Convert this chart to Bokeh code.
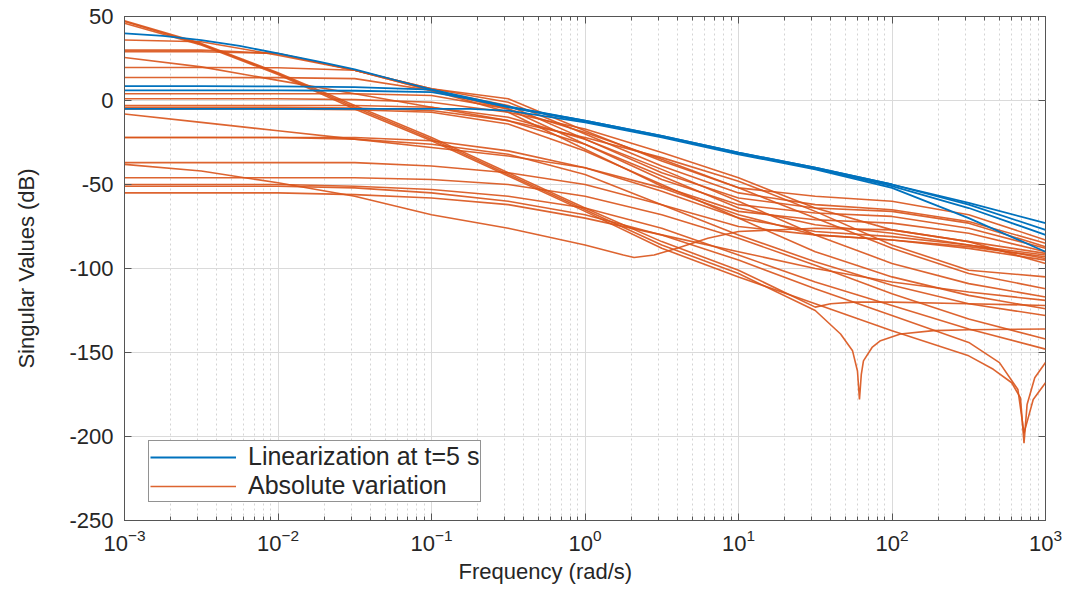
from bokeh.plotting import figure
from bokeh.models import (LogAxis, LinearAxis, FixedTicker, LogTicker, Legend, LegendItem,
                          CustomJSTickFormatter, Range1d, Title)
from bokeh.embed import file_html
from bokeh.resources import INLINE

# ---------------- data ----------------
freq = [0.001, 0.003162, 0.01, 0.03162, 0.1, 0.3162, 1, 3.162, 10, 31.62, 100, 316.2, 1000]

# Linearization at t=5 s (blue)
freq_b1 = [0.001, 0.001778, 0.003162, 0.005623, 0.01, 0.01778, 0.03162, 0.05623, 0.1,
           0.1778, 0.3162, 0.5623, 1, 3.162, 10, 31.62, 100, 316.2, 1000]
blue_1 = [40, 38.5, 36, 32.5, 28, 23.5, 18.5, 12.5, 6.5, 1, -4, -8, -12, -21, -31, -40, -50, -61, -73]
freq_b2 = [0.001, 0.003162, 0.01, 0.03162, 0.1, 0.1778, 0.3162, 1, 3.162, 10, 31.62, 100, 316.2, 1000]
blue_2 = [8.5, 8.5, 8.4, 8, 6.5, 1.5, -3.5, -12, -21, -31, -40, -50, -62, -77]
blue_3 = [6, 6, 6, 5.8, 5, 1, -4, -12.5, -21.5, -31.5, -40.5, -51, -64, -80]
blue_4 = [-5, -5, -5, -5, -5, -5, -6, -13, -22, -32, -41, -52, -70, -90]

# Absolute variation (orange), on the common frequency grid
var_36 = [36, 35, 27, 18, 7, 1, -18, -36, -52, -57, -60, -68, -83]
var_30 = [30, 30, 28, 18, 7, -1, -20, -39, -55, -62, -65, -72, -85]
var_29 = [29, 29, 28, 18, 6, -3, -23, -43, -58, -64, -66, -73, -87]
var_26 = [25.6, 20, 12, 4, -4, -12, -22, -34, -48, -66, -86, -101, -105]
var_20 = [19.6, 19.6, 19.5, 18, 6, -5, -26, -47, -62, -67, -69, -76, -88]
var_14 = [13.7, 13.7, 13.6, 13, 6, -7, -29, -51, -66, -71, -73, -79, -90]
var_4 = [4, 4, 4, 4, 3, -5, -19, -35, -52, -70, -88, -103, -112]
var_1 = [1, 1, 1, 0.5, -1, -7, -17, -31, -46, -64, -77, -84, -91]
var_m3 = [-3, -3, -3, -3, -4, -10, -23, -41, -60, -80, -97, -109, -117]
var_m4 = [-4, -4, -4, -4.5, -6, -12, -26, -45, -64, -74, -79, -86, -92]
var_m5 = [-5, -5, -5, -5.5, -7, -14, -30, -50, -70, -90, -105, -116, -124]
var_m8 = [-8, -13, -18, -23, -28, -33, -40, -52, -68, -80, -83, -87, -93]
var_m22 = [-22, -22, -22, -22, -24, -30, -40, -54, -70, -78, -81, -86, -94]
var_m22b = [-22, -22, -22, -23, -26, -32, -44, -62, -80, -96, -110, -121, -128]
var_m37 = [-37, -37, -37, -37, -39, -43, -50, -62, -75, -80, -83, -88, -95]
var_m46 = [-46, -46, -46, -46, -47, -50, -57, -68, -82, -98, -115, -130, -142]
var_m50 = [-50, -50, -50, -51, -53, -57, -64, -76, -92, -108, -122, -136, -148]
var_m55 = [-55, -55, -55, -56, -58, -62, -70, -80, -90, -100, -108, -114, -119]

# Orange curves with their own frequency points (notches, dips, kinks)
freq_s1 = [0.001, 0.003162, 0.01, 0.03162, 0.1, 0.3162, 1, 3.162, 10, 31.62, 46.24, 55.34,
           59.57, 61.38, 63.10, 65.16, 74.13, 84.14, 113.5, 186.2, 316.2, 1000]
var_s1 = [47, 33.5, 16, -4, -23, -44, -65, -86, -103, -125, -139, -149,
          -161, -178, -163, -155, -147, -143, -139, -137, -136.5, -136]

freq_s2 = [0.001, 0.003162, 0.01, 0.03162, 0.1, 0.3162, 1, 3.162, 10, 31.62, 39.81, 56.23,
           100, 316.2, 1000]
var_s2 = [47.5, 34, 16.5, -3, -22, -43, -64, -84, -101, -123, -121, -120, -120, -121, -122]

freq_s3 = [0.001, 0.003162, 0.01, 0.03162, 0.1, 0.3162, 1, 3.162, 10, 31.62, 100, 316.2,
           457.1, 602.6, 687.1, 724.4, 758.6, 851.1, 1000]
var_s3 = [46, 33, 15.5, -5, -24, -45, -66, -88, -105, -121, -137, -152,
          -160, -168, -177, -204, -181, -165, -156]

freq_m51 = [0.001, 0.003162, 0.01, 0.03162, 0.1, 0.3162, 1, 3.162, 10, 31.62, 100, 316.2,
            501.2, 660.7, 724.4, 831.8, 1000]
var_m51 = [-51, -51, -51, -52, -55, -60, -68, -80, -95, -112, -128, -144,
           -156, -172, -198, -178, -168]

freq_dip = [0.001, 0.003162, 0.01, 0.03162, 0.1, 0.3162, 1, 1.778, 2.089, 2.818, 3.981,
            6.31, 10, 31.62, 100, 316.2, 1000]
var_dip = [-38, -42, -49, -57, -68, -76, -86, -92, -93.5, -92, -88, -82, -78, -76, -77, -84, -97]

y_ticks = [-250, -200, -150, -100, -50, 0, 50]
legend_labels = ["Linearization at t=5 s", "Absolute variation"]
x_label = "Frequency (rad/s)"
y_label = "Singular Values (dB)"

BLUE = "#0072BD"
ORANGE = "#D95319"
FONT = "Liberation Sans"
TXT = "#262626"
AXC = "#555555"

# ---------------- figure ----------------
p = figure(width=1070, height=589, x_axis_type="log",
           x_range=Range1d(1e-3, 1e3), y_range=Range1d(-250, 50),
           output_backend="svg", toolbar_location=None,
           min_border_left=124, min_border_right=25, min_border_top=16, min_border_bottom=69)
p.background_fill_color = "white"
p.border_fill_color = "white"
p.outline_line_color = AXC
p.outline_line_width = 1

xt = LogTicker(num_minor_ticks=10)
yt = FixedTicker(ticks=y_ticks)

xa = p.xaxis[0]
xa.ticker = xt
ya = p.yaxis[0]
ya.ticker = yt
ya.formatter = CustomJSTickFormatter(code="return tick.toString()")
for ax in (xa, ya):
    ax.major_label_text_font = FONT
    ax.major_label_text_font_size = "22px"
    ax.major_label_text_color = TXT
    ax.axis_label_text_font = FONT
    ax.axis_label_text_font_size = "22px"
    ax.axis_label_text_font_style = "normal"
    ax.axis_label_text_color = TXT
    ax.axis_line_color = AXC
    ax.major_tick_line_color = AXC
    ax.minor_tick_line_color = AXC
    ax.major_tick_in = 7
    ax.major_tick_out = 0
    ax.minor_tick_in = 4
    ax.minor_tick_out = 0
xa.major_label_standoff = 8
ya.major_label_standoff = 11
ya.minor_tick_line_color = None
ya.axis_label = y_label
ya.axis_label_standoff = 27

xtitle = Title(text=x_label, align="left", offset=334, text_font=FONT,
               text_font_size="22px", text_font_style="normal", text_color=TXT,
               standoff=6)
p.add_layout(xtitle, "below")

blank = CustomJSTickFormatter(code="return ''")
top = LogAxis(ticker=xt, formatter=blank, major_tick_in=7, major_tick_out=0,
              minor_tick_in=4, minor_tick_out=0, axis_line_color=None,
              major_tick_line_color=AXC, minor_tick_line_color=AXC,
              major_label_standoff=0)
right = LinearAxis(ticker=yt, formatter=blank, major_tick_in=7, major_tick_out=0,
                   minor_tick_line_color=None, axis_line_color=None,
                   major_tick_line_color=AXC, major_label_standoff=0)
p.add_layout(top, "above")
p.add_layout(right, "right")

p.xgrid.ticker = xt
p.ygrid.ticker = yt
p.xgrid.grid_line_color = "#dadada"
p.ygrid.grid_line_color = "#dadada"
p.xgrid.minor_grid_line_color = "#d4d4d4"
p.xgrid.minor_grid_line_dash = "2 3"

orange_series = [
    (freq, var_36), (freq, var_30), (freq, var_29), (freq, var_26), (freq, var_20),
    (freq, var_14), (freq, var_4), (freq, var_1), (freq, var_m3), (freq, var_m4),
    (freq, var_m5), (freq, var_m8), (freq, var_m22), (freq, var_m22b), (freq, var_m37),
    (freq, var_m46), (freq, var_m50), (freq, var_m55),
    (freq_s1, var_s1), (freq_s2, var_s2), (freq_s3, var_s3), (freq_m51, var_m51),
    (freq_dip, var_dip),
]
blue_series = [(freq_b1, blue_1), (freq_b2, blue_2), (freq_b2, blue_3), (freq_b2, blue_4)]

orange_r = []
for fx, vy in orange_series:
    orange_r.append(p.line(fx, vy, line_color=ORANGE, line_width=1.6, line_alpha=0.9))
blue_r = []
for fx, vy in blue_series:
    blue_r.append(p.line(fx, vy, line_color=BLUE, line_width=1.8))

legend = Legend(items=[LegendItem(label=legend_labels[0], renderers=[blue_r[0]]),
                       LegendItem(label=legend_labels[1], renderers=[orange_r[0]])],
                location=(24, 18))
legend.label_text_font = FONT
legend.label_text_font_size = "25px"
legend.label_text_color = TXT
legend.border_line_color = "#262626"
legend.border_line_width = 1
legend.background_fill_color = "white"
legend.background_fill_alpha = 1
legend.glyph_width = 86
legend.glyph_height = 24
legend.label_height = 24
legend.label_standoff = 12
legend.spacing = 0
legend.margin = 0
legend.padding = 1
p.add_layout(legend)

open("out.html", "w").write(file_html(p, INLINE))
